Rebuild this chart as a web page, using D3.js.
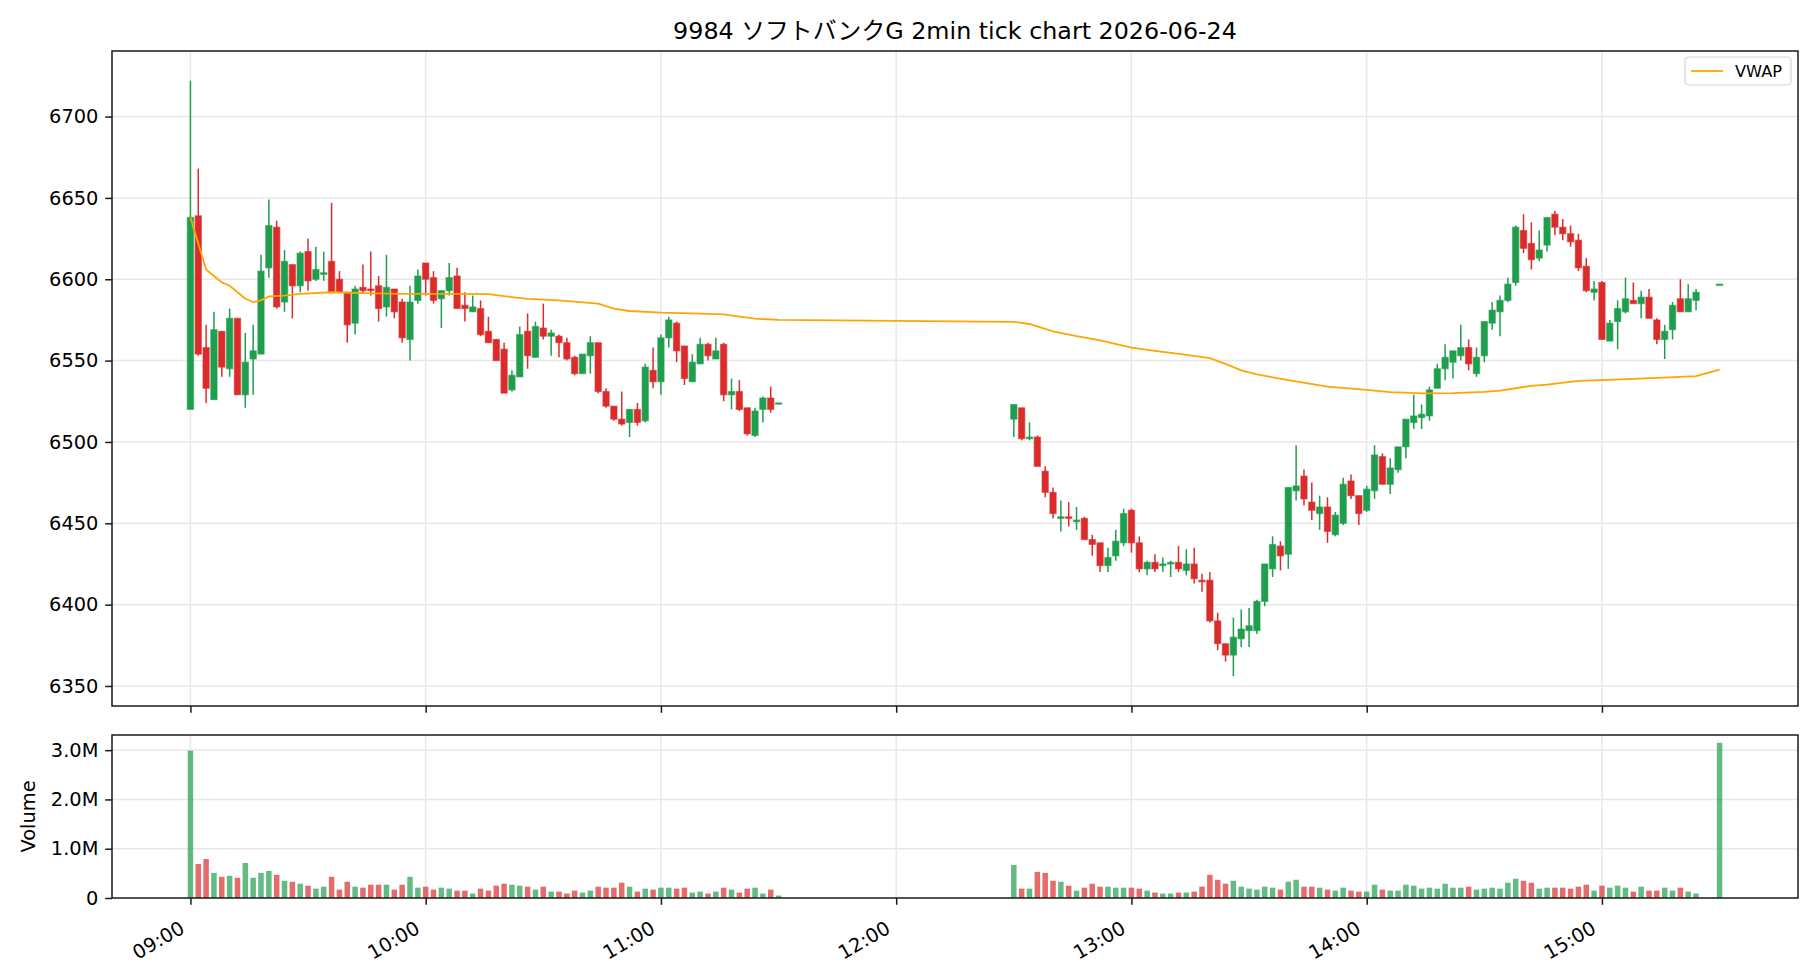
<!DOCTYPE html>
<html>
<head>
<meta charset="utf-8">
<script src="https://cdn.jsdelivr.net/npm/d3@7"></script>
<style>
	body { margin: 0; background: #fff; }
	svg text { font-family: "DejaVu Sans", "Noto Sans CJK JP", sans-serif; }
</style>
</head>
<body>
<svg id="chart" width="1820" height="980"></svg>
<script>

//============================================================
// Data (morning session, then afternoon session)
//============================================================

var times = [
	'09:00','09:02','09:04','09:06','09:08','09:10','09:12','09:14','09:16','09:18',
	'09:20','09:22','09:24','09:26','09:28','09:30','09:32','09:34','09:36','09:38',
	'09:40','09:42','09:44','09:46','09:48','09:50','09:52','09:54','09:56','09:58',
	'10:00','10:02','10:04','10:06','10:08','10:10','10:12','10:14','10:16','10:18',
	'10:20','10:22','10:24','10:26','10:28','10:30','10:32','10:34','10:36','10:38',
	'10:40','10:42','10:44','10:46','10:48','10:50','10:52','10:54','10:56','10:58',
	'11:00','11:02','11:04','11:06','11:08','11:10','11:12','11:14','11:16','11:18',
	'11:20','11:22','11:24','11:26','11:28','11:30',
	'12:30','12:32','12:34','12:36','12:38','12:40','12:42','12:44','12:46','12:48',
	'12:50','12:52','12:54','12:56','12:58',
	'13:00','13:02','13:04','13:06','13:08','13:10','13:12','13:14','13:16','13:18',
	'13:20','13:22','13:24','13:26','13:28','13:30','13:32','13:34','13:36','13:38',
	'13:40','13:42','13:44','13:46','13:48','13:50','13:52','13:54','13:56','13:58',
	'14:00','14:02','14:04','14:06','14:08','14:10','14:12','14:14','14:16','14:18',
	'14:20','14:22','14:24','14:26','14:28','14:30','14:32','14:34','14:36','14:38',
	'14:40','14:42','14:44','14:46','14:48','14:50','14:52','14:54','14:56','14:58',
	'15:00','15:02','15:04','15:06','15:08','15:10','15:12','15:14','15:16','15:18',
	'15:20','15:22','15:24','15:30'
];

var opens = [
	6520,6639,6558,6526,6568,6545,6576,6529,6551,6554, 6607,6632,6586,6609,6596,6617,6600,6603,6611,6600,
	6592,6573,6595,6594,6596,6583,6594,6586,6563,6587, 6610,6601,6588,6593,6602,6584,6580,6582,6568,6563,
	6557,6532,6540,6568,6552,6570,6565,6565,6561,6552, 6542,6553,6561,6531,6522,6514,6512,6520,6513,6544,
	6537,6564,6573,6559,6537,6548,6560,6551,6560,6529, 6531,6521,6504,6520,6527,6524,
	6514,6521,6502,6503,6482,6469,6453,6454,6451,6453, 6440,6438,6424,6430,6438,
	6458,6438,6422,6426,6424,6425,6426,6421,6425,6415, 6415,6390,6376,6369,6379,6384,6384,6402,6422,6436,
	6431,6470,6479,6463,6456,6460,6443,6450,6476,6467,
	6458,6470,6491,6474,6483,6497,6512,6515,6516,6533, 6545,6549,6553,6558,6542,6553,6573,6580,6587,6598,
	6630,6622,6613,6621,6640,6632,6628,6624,6608,6592,
	6598,6562,6574,6580,6587,6585,6589,6575,6563,6569, 6588,6580,6587,6597
];

var highs = [
	6722,6668,6572,6580,6568,6582,6576,6567,6572,6615, 6649,6636,6618,6609,6617,6625,6620,6617,6647,6605,
	6592,6596,6609,6617,6602,6615,6594,6588,6596,6606, 6610,6605,6593,6610,6607,6592,6590,6587,6577,6563,
	6561,6544,6571,6579,6574,6585,6569,6566,6564,6553, 6554,6565,6561,6533,6522,6531,6520,6524,6548,6558,
	6566,6577,6574,6559,6554,6564,6561,6564,6561,6539, 6538,6521,6521,6528,6534,6524,
	6523,6521,6512,6504,6485,6472,6464,6463,6460,6454, 6443,6438,6435,6446,6459,
	6459,6442,6427,6431,6429,6427,6436,6434,6435,6419, 6420,6395,6376,6392,6397,6398,6403,6425,6442,6439,
	6472,6498,6483,6475,6467,6466,6457,6478,6480,6467,
	6473,6498,6493,6490,6497,6514,6529,6523,6534,6548, 6560,6556,6572,6563,6558,6574,6586,6590,6601,6633,
	6640,6635,6630,6638,6642,6637,6633,6628,6613,6599,
	6599,6575,6587,6601,6598,6593,6594,6576,6572,6586, 6600,6597,6594,6597
];

var lows = [
	6520,6553,6524,6526,6540,6540,6529,6521,6529,6554, 6601,6582,6580,6576,6592,6593,6599,6599,6592,6592,
	6561,6566,6592,6590,6574,6577,6576,6561,6550,6585, 6590,6585,6570,6590,6582,6574,6580,6565,6561,6550,
	6530,6531,6540,6545,6552,6563,6553,6552,6550,6541, 6542,6542,6530,6521,6513,6510,6503,6510,6512,6533,
	6529,6558,6549,6535,6537,6548,6550,6551,6525,6520, 6519,6504,6503,6512,6518,6524,
	6503,6501,6501,6485,6466,6453,6445,6448,6446,6440, 6430,6420,6420,6427,6436,
	6432,6420,6418,6420,6420,6417,6420,6418,6413,6408, 6389,6372,6365,6356,6374,6374,6382,6399,6417,6421,
	6422,6464,6461,6452,6446,6438,6442,6449,6465,6449,
	6457,6465,6474,6468,6481,6490,6508,6508,6513,6533, 6538,6539,6550,6544,6540,6549,6569,6565,6586,6596,
	6616,6606,6611,6617,6627,6624,6620,6605,6592,6587,
	6563,6562,6557,6579,6585,6576,6576,6560,6551,6563, 6580,6580,6581,6597
];

var closes = [
	6638,6554,6533,6569,6546,6576,6529,6549,6556,6605, 6633,6583,6611,6596,6616,6599,6606,6604,6592,6592,
	6572,6594,6593,6593,6582,6595,6580,6564,6586,6602, 6600,6587,6593,6601,6582,6582,6583,6566,6561,6550,
	6530,6541,6566,6553,6571,6565,6567,6561,6551,6542, 6554,6561,6531,6522,6514,6511,6520,6512,6546,6537,
	6564,6575,6556,6539,6549,6560,6553,6556,6529,6531, 6520,6505,6519,6527,6520,6524,
	6523,6502,6503,6485,6469,6456,6454,6453,6452,6440, 6437,6424,6429,6439,6456,
	6438,6422,6426,6422,6425,6426,6422,6425,6416,6414, 6390,6376,6369,6380,6385,6387,6402,6425,6437,6430,
	6472,6473,6465,6458,6460,6445,6455,6474,6467,6456,
	6471,6492,6474,6484,6497,6514,6516,6517,6532,6545, 6552,6556,6558,6548,6552,6574,6581,6587,6597,6632,
	6619,6612,6618,6638,6632,6628,6623,6607,6593,6594,
	6563,6573,6582,6588,6585,6589,6576,6563,6568,6584, 6580,6588,6592,6597
];

var volumes = [
	2990000,690000,790000,510000,430000,450000,410000,710000,410000,510000,
	550000,470000,350000,330000,290000,250000,190000,230000,430000,170000,
	330000,230000,210000,270000,270000,270000,170000,270000,430000,210000,
	230000,170000,210000,190000,150000,150000,90000,190000,150000,250000,
	290000,270000,250000,230000,170000,230000,130000,130000,90000,150000,
	110000,150000,230000,210000,210000,310000,230000,130000,190000,170000,
	210000,210000,190000,210000,110000,130000,90000,130000,210000,170000,
	110000,190000,210000,90000,170000,50000,
	670000,190000,190000,530000,510000,350000,330000,250000,150000,210000,
	290000,230000,230000,210000,210000,
	210000,190000,150000,110000,90000,90000,110000,110000,130000,230000,
	470000,370000,290000,350000,230000,190000,170000,230000,210000,170000,
	330000,370000,230000,230000,210000,170000,150000,210000,150000,130000,
	130000,270000,170000,150000,150000,270000,250000,190000,210000,190000,
	290000,210000,210000,230000,170000,190000,210000,190000,310000,390000,
	350000,310000,190000,210000,210000,210000,190000,230000,270000,150000,
	250000,210000,250000,210000,130000,230000,150000,150000,210000,150000,
	210000,130000,90000,3150000
];

// VWAP read at points along the orange line
var vwapTimes = [
	'09:00','09:02','09:04','09:06','09:08','09:10','09:12','09:14','09:16','09:18',
	'09:20','09:24','09:28','09:36','09:44','09:54','10:08','10:16','10:22','10:26',
	'10:34','10:44','10:48','10:52','11:00','11:08','11:16','11:20','11:24','11:30',
	'12:30','12:34','12:40','12:46','12:52','13:00','13:06','13:14','13:20','13:24',
	'13:28','13:32','13:40','13:50','14:00','14:06','14:14','14:22','14:30','14:34',
	'14:38','14:42','14:46','14:54','15:00','15:08','15:20','15:24','15:30'
];
var vwapValues = [
	6638,6622,6606,6602,6598,6596,6592,6588,6586,6587,
	6589.5,6590,6591,6592,6591.5,6591,6591,6590.8,6589,6588,
	6587,6585,6582,6580.5,6579.5,6579,6578.4,6577,6575.8,6575,
	6573.8,6572.5,6568,6565,6562.5,6558,6556,6553.5,6551.5,6548,
	6544,6541.5,6538,6534,6532,6530.6,6529.8,6530,6530.8,6531.6,
	6533,6534.5,6535.2,6537.5,6538,6538.8,6540,6540.4,6544.5
];

var hourTicks   = ['09:00','10:00','11:00','12:00','13:00','14:00','15:00'],
    priceTicks  = [6350, 6400, 6450, 6500, 6550, 6600, 6650, 6700],
    volumeTicks = [0, 1000000, 2000000, 3000000];

//============================================================
// Layout
//============================================================

var left        = 112,
    right       = 1798,
    priceTop    = 51,
    priceBottom = 706,
    volTop      = 735,
    volBottom   = 898,
    tickLen     = 6.8,
    tickFont    = 19.4,
    up          = '#1f9e4d',
    down        = '#db2c2c',
    gridColour  = '#e8e8e8',
    axisColour  = '#1a1a1a';

var parseTime = d3.timeParse('%Y-%m-%d %H:%M');
function toDate(t){
	return parseTime('2026-06-24 ' + t);
}

var svg = d3.select('#chart');

var x = d3.scaleTime()
	.domain([toDate('08:40'), toDate('15:50')])
	.range([left, right]);

var lo = d3.min(lows), hi = d3.max(highs), pad = (hi - lo) * 0.05;
var y = d3.scaleLinear()
	.domain([lo - pad, hi + pad])
	.range([priceBottom, priceTop]);

var yVol = d3.scaleLinear()
	.domain([0, d3.max(volumes) * 1.05])
	.range([volBottom, volTop]);

var step      = x(toDate('09:02')) - x(toDate('09:00')), // width of one 2min slot
    bodyWidth = step * 0.8,
    barWidth  = step * 0.7;

var bars = times.map(function(t, i){
	return {date: toDate(t), o: opens[i], h: highs[i], l: lows[i], c: closes[i], v: volumes[i]};
});

function colourOf(d){
	return d.c >= d.o ? up : down;
}

// GRID LINES
var grid = svg.append('g');

grid.selectAll('line.hp')
	.data(priceTicks)
	.enter().append('line')
	.attr('x1', left).attr('x2', right)
	.attr('y1', function(d){ return y(d); })
	.attr('y2', function(d){ return y(d); });

grid.selectAll('line.hv')
	.data(volumeTicks.slice(1))
	.enter().append('line')
	.attr('x1', left).attr('x2', right)
	.attr('y1', function(d){ return yVol(d); })
	.attr('y2', function(d){ return yVol(d); });

[[priceTop, priceBottom], [volTop, volBottom]].forEach(function(p){
	grid.selectAll(null)
		.data(hourTicks)
		.enter().append('line')
		.attr('x1', function(d){ return x(toDate(d)); })
		.attr('x2', function(d){ return x(toDate(d)); })
		.attr('y1', p[0]).attr('y2', p[1]);
});

grid.selectAll('line')
	.attr('stroke', gridColour)
	.attr('stroke-width', 1.5);

// VOLUME BARS
svg.append('g')
	.selectAll('rect')
	.data(bars)
	.enter().append('rect')
	.attr('x', function(d){ return x(d.date) - barWidth / 2; })
	.attr('width', barWidth)
	.attr('y', function(d){ return yVol(d.v); })
	.attr('height', function(d){ return volBottom - yVol(d.v); })
	.attr('fill', colourOf)
	.attr('fill-opacity', 0.7);

// CANDLES
var candle = svg.append('g')
	.selectAll('g')
	.data(bars)
	.enter().append('g');

candle.append('line')
	.attr('x1', function(d){ return x(d.date); })
	.attr('x2', function(d){ return x(d.date); })
	.attr('y1', function(d){ return y(d.h); })
	.attr('y2', function(d){ return y(d.l); })
	.attr('stroke', colourOf)
	.attr('stroke-width', 1.5);

candle.append('rect')
	.attr('x', function(d){ return x(d.date) - bodyWidth / 2; })
	.attr('width', bodyWidth)
	.attr('y', function(d){ return y(Math.max(d.o, d.c)); })
	.attr('height', function(d){ return Math.max(Math.abs(y(d.o) - y(d.c)), 1.3); })
	.attr('fill', colourOf)
	.attr('stroke', colourOf)
	.attr('stroke-opacity', 0.55)
	.attr('stroke-width', 1.2);

// VWAP LINE
var vwapLine = d3.line()
	.x(function(d, i){ return x(toDate(vwapTimes[i])); })
	.y(function(d){ return y(d); });

svg.append('path')
	.datum(vwapValues)
	.attr('d', vwapLine)
	.attr('fill', 'none')
	.attr('stroke', '#ffa500')
	.attr('stroke-width', 1.8);

// AXES
function styleAxis(g){
	g.attr('font-size', tickFont)
		.attr('font-family', '"DejaVu Sans", "Noto Sans CJK JP", sans-serif')
		.attr('color', axisColour);
	g.selectAll('.tick line').attr('stroke-width', 1.5);
	g.selectAll('.tick text').attr('fill', '#000');
	g.select('.domain').remove();
}

svg.append('g')
	.attr('transform', 'translate(' + left + ',0)')
	.call(d3.axisLeft(y).tickValues(priceTicks).tickSize(tickLen).tickPadding(tickLen)
		.tickFormat(d3.format('d')))
	.call(styleAxis);

svg.append('g')
	.attr('transform', 'translate(' + left + ',0)')
	.call(d3.axisLeft(yVol).tickValues(volumeTicks).tickSize(tickLen).tickPadding(tickLen)
		.tickFormat(function(d){ return d === 0 ? '0' : (d / 1e6).toFixed(1) + 'M'; }))
	.call(styleAxis);

svg.append('g')
	.attr('transform', 'translate(0,' + priceBottom + ')')
	.call(d3.axisBottom(x).tickValues(hourTicks.map(toDate)).tickSize(tickLen).tickFormat(''))
	.call(styleAxis);

var xAxis = svg.append('g')
	.attr('transform', 'translate(0,' + volBottom + ')')
	.call(d3.axisBottom(x).tickValues(hourTicks.map(toDate)).tickSize(tickLen)
		.tickFormat(d3.timeFormat('%H:%M')))
	.call(styleAxis);

// rotated hour labels, right end tucked under the tick
xAxis.selectAll('.tick text')
	.attr('x', 0).attr('y', 0).attr('dy', 0)
	.attr('text-anchor', 'end')
	.attr('transform', 'translate(-5,34) rotate(-30)');

// FRAMES
[[priceTop, priceBottom], [volTop, volBottom]].forEach(function(p){
	svg.append('rect')
		.attr('x', left).attr('y', p[0])
		.attr('width', right - left).attr('height', p[1] - p[0])
		.attr('fill', 'none')
		.attr('stroke', axisColour)
		.attr('stroke-width', 1.5);
});

// TEXTS
svg.append('text')
	.attr('x', (left + right) / 2)
	.attr('y', 39)
	.attr('text-anchor', 'middle')
	.attr('font-size', 23.8)
	.text('9984 ソフトバンクG 2min tick chart 2026-06-24');

svg.append('text')
	.attr('transform', 'translate(35,' + (volTop + volBottom) / 2 + ') rotate(-90)')
	.attr('text-anchor', 'middle')
	.attr('font-size', tickFont)
	.text('Volume');

// LEGEND
var legend = svg.append('g')
	.attr('transform', 'translate(1685,57)');

legend.append('rect')
	.attr('width', 106).attr('height', 28)
	.attr('rx', 4)
	.attr('fill', '#fff').attr('fill-opacity', 0.8)
	.attr('stroke', '#d5d5d5').attr('stroke-width', 1.2);

legend.append('line')
	.attr('x1', 6).attr('x2', 38)
	.attr('y1', 14).attr('y2', 14)
	.attr('stroke', '#ffa500')
	.attr('stroke-width', 1.8);

legend.append('text')
	.attr('x', 50).attr('y', 14)
	.attr('dy', '0.36em')
	.attr('font-size', 16.2)
	.text('VWAP');

</script>
</body>
</html>
